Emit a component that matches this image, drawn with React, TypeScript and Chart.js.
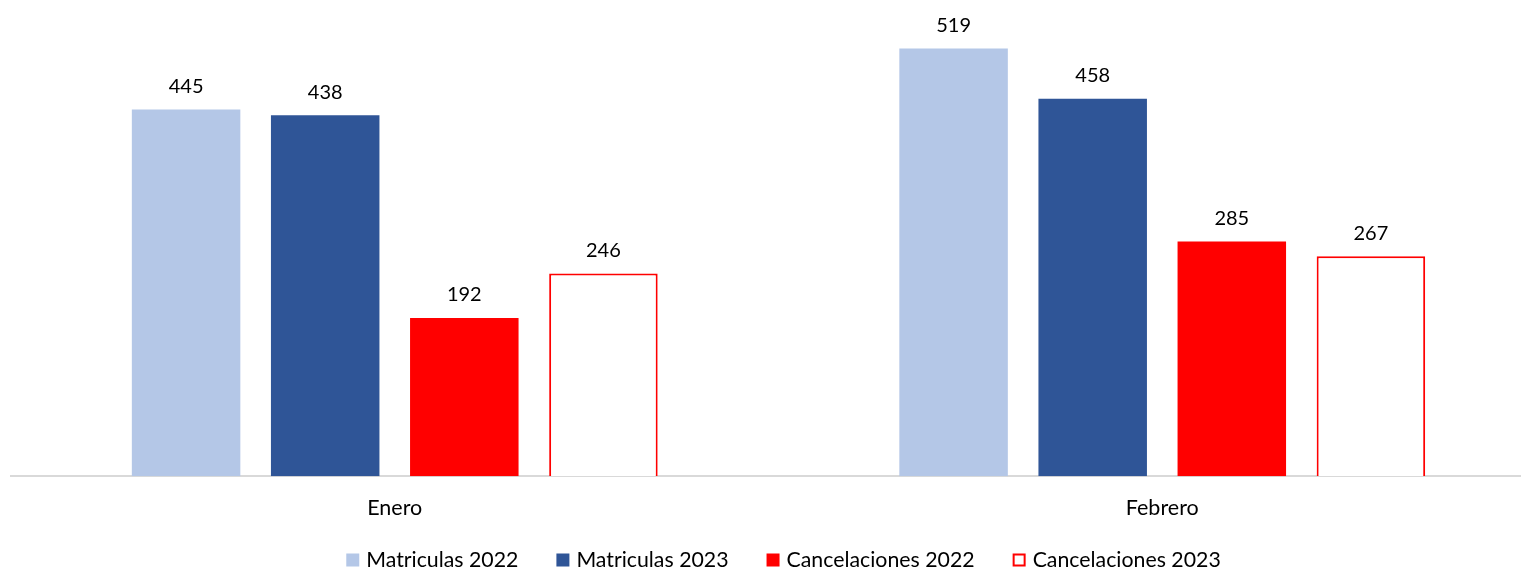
import React, { useEffect, useRef } from "react";
import { Chart, registerables } from "chart.js";

Chart.register(...registerables);

const categories = ["Enero", "Febrero"];
const matriculas2022 = [445, 519];
const matriculas2023 = [438, 458];
const cancelaciones2022 = [192, 285];
const cancelaciones2023 = [246, 267];

const FONT = "Lato, 'Open Sans', sans-serif";

const valueLabels = {
  id: "valueLabels",
  afterDatasetsDraw(chart: any) {
    const ctx = chart.ctx;
    ctx.save();
    ctx.font = `20px ${FONT}`;
    ctx.fillStyle = "#000";
    ctx.textAlign = "center";
    ctx.textBaseline = "middle";
    chart.data.datasets.forEach((ds: any, i: number) => {
      const meta = chart.getDatasetMeta(i);
      meta.data.forEach((bar: any, j: number) => {
        ctx.fillText(String(ds.data[j]), bar.x, bar.y - 23);
      });
    });
    ctx.restore();
  },
};

const customLegend = {
  id: "customLegend",
  afterDraw(chart: any) {
    const ctx = chart.ctx;
    ctx.save();
    ctx.font = `21.3px ${FONT}`;
    ctx.textBaseline = "middle";
    ctx.textAlign = "left";
    const box = 13;
    const gapText = 7;
    const gapItem = 38;
    const items = chart.data.datasets.map((ds: any) => ({
      label: ds.label,
      fill: ds.backgroundColor,
      stroke: ds.borderWidth ? ds.borderColor : null,
      w: ctx.measureText(ds.label).width,
    }));
    let total = 0;
    items.forEach((it: any, i: number) => {
      total += box + gapText + it.w + (i < items.length - 1 ? gapItem : 0);
    });
    let x = 783.5 - total / 2;
    const y = 560;
    items.forEach((it: any) => {
      ctx.fillStyle = it.fill;
      ctx.fillRect(x, y - box / 2, box, box);
      if (it.stroke) {
        ctx.strokeStyle = it.stroke;
        ctx.lineWidth = 2;
        ctx.strokeRect(x + 1, y - box / 2 + 1, box - 2, box - 2);
      }
      ctx.fillStyle = "#000";
      ctx.fillText(it.label, x + box + gapText, y);
      x += box + gapText + it.w + gapItem;
    });
    ctx.restore();
  },
};

export default function App() {
  const ref = useRef<HTMLCanvasElement>(null);
  useEffect(() => {
    if (!ref.current) return;
    const chart = new Chart(ref.current, {
      type: "bar",
      data: {
        labels: categories,
        datasets: [
          { label: "Matriculas 2022", data: matriculas2022, backgroundColor: "#b4c7e7", borderWidth: 0 },
          { label: "Matriculas 2023", data: matriculas2023, backgroundColor: "#2f5597", borderWidth: 0 },
          { label: "Cancelaciones 2022", data: cancelaciones2022, backgroundColor: "#ff0000", borderWidth: 0 },
          { label: "Cancelaciones 2023", data: cancelaciones2023, backgroundColor: "#ffffff", borderColor: "#ff0000", borderWidth: 2 },
        ],
      },
      options: {
        animation: false,
        responsive: false,
        maintainAspectRatio: false,
        layout: { padding: { left: 11, right: 14, top: 0, bottom: 31 } },
        datasets: { bar: { categoryPercentage: 0.725, barPercentage: 0.78 } },
        scales: {
          x: {
            grid: { display: false, drawTicks: false },
            border: { display: true, color: "#d9d9d9", width: 2 },
            ticks: { color: "#000", font: { family: FONT, size: 21.5 }, padding: 19 },
          },
          y: { display: false, min: 0, max: 578 },
        },
        plugins: {
          legend: { display: false },
          tooltip: { enabled: false },
        },
      } as any,
      plugins: [valueLabels, customLegend],
    });
    return () => chart.destroy();
  }, []);
  return (
    <div style={{ position: "fixed", left: 0, top: 0, width: 1560, height: 571, background: "#fff" }}>
      <canvas ref={ref} width={1560} height={571} style={{ width: 1560, height: 571 }} />
    </div>
  );
}
